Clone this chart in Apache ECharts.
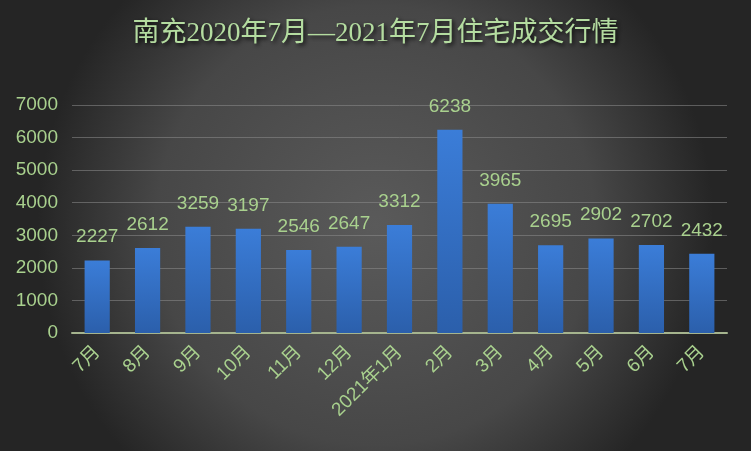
<!DOCTYPE html>
<html><head><meta charset="utf-8">
<script src="https://cdn.jsdelivr.net/npm/echarts@6/dist/echarts.min.js"></script>
<style>html,body{margin:0;padding:0;background:#333;}#c{width:751px;height:451px;}</style>
</head><body><div id="c"></div>
<script>
var titleText = '南充2020年7月—2021年7月住宅成交行情';
var categories = ['7月','8月','9月','10月','11月','12月','2021年1月','2月','3月','4月','5月','6月','7月'];
var values = [2227,2612,3259,3197,2546,2647,3312,6238,3965,2695,2902,2702,2432];
var yTicks = {min:0, max:7000, interval:1000};

var chart = echarts.init(document.getElementById('c'));
chart.setOption({
  backgroundColor: {type:'radial', x:0.5, y:0.5, r:0.75, colorStops:[
    {offset:0, color:'#5a5a5a'}, {offset:0.65, color:'#474747'}, {offset:1, color:'#252525'}]},
  title: {
    text: titleText, left:'center', top:15,
    textStyle: {color:'#b4dca0', fontSize:27, fontWeight:'normal',
      fontFamily:'"Liberation Serif","Noto Sans CJK SC",serif',
      textShadowColor:'rgba(0,0,0,0.85)', textShadowBlur:4, textShadowOffsetX:2, textShadowOffsetY:2}
  },
  grid: {left:72, right:24, top:105, bottom:118},
  xAxis: {
    type:'category', data: categories,
    axisLine:{lineStyle:{color:'#a5b48e', width:2}},
    axisTick:{show:false},
    axisLabel:{color:'#a9d18e', fontSize:19, rotate:45, margin:16, interval:0,
      fontFamily:'"Liberation Sans","Noto Sans CJK SC",sans-serif'}
  },
  yAxis: {
    type:'value', min:yTicks.min, max:yTicks.max, interval:yTicks.interval,
    axisLine:{show:false}, axisTick:{show:false},
    splitLine:{lineStyle:{color:'rgba(140,140,140,0.55)', width:1}},
    axisLabel:{color:'#a9d18e', fontSize:19, margin:14, formatter: function(v){ return String(v); },
      fontFamily:'"Liberation Sans",sans-serif'}
  },
  series: [{
    type:'bar', data: values, barWidth:'50%',
    itemStyle:{color:{type:'linear', x:0,y:0,x2:0,y2:1, colorStops:[
      {offset:0,color:'#3b7dd8'},{offset:1,color:'#2b5fab'}]}},
    label:{show:true, position:'top', distance:14, color:'#a9d18e', fontSize:19,
      fontFamily:'"Liberation Sans",sans-serif'}
  }]
});
</script></body></html>
